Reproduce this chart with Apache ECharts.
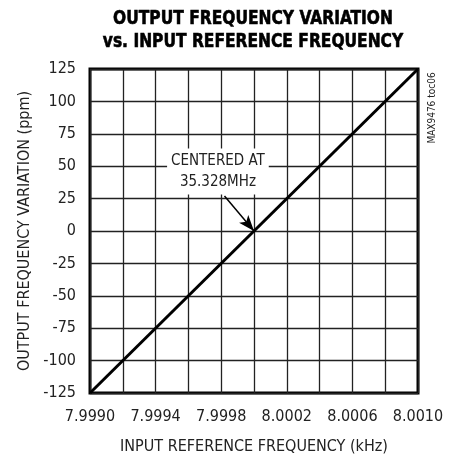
<!DOCTYPE html>
<html lang="en">
<head>
    <meta charset="UTF-8">
    <title>Output Frequency Variation</title>
    <script src="https://cdn.jsdelivr.net/npm/echarts@6/dist/echarts.min.js"></script>
    <style>
        html, body { margin: 0; padding: 0; background: #fff; }
        #chart { width: 452px; height: 460px; }
    </style>
</head>
<body>
<div id="chart"></div>
<script>
    // data
    var inputFreq = [7.9990, 8.0010];          // kHz
    var outputVar = [-125, 125];               // ppm
    var arrowFrom = [7.99982, 27];
    var arrowTo = [8.0000, 0];
    var noteAt = [7.99978, 46];
    var noteText = 'CENTERED AT\n35.328MHz';
    var titleLines = ['OUTPUT FREQUENCY VARIATION', 'vs. INPUT REFERENCE FREQUENCY'];

    var FONT = '"Liberation Sans Narrow", "DejaVu Sans Condensed", sans-serif';

    var chart = echarts.init(document.getElementById('chart'));
    chart.setOption({
        animation: false,
        grid: {
            left: 90, right: 34, top: 69, bottom: 62,
            show: true, borderColor: '#000', borderWidth: 3
        },
        xAxis: {
            type: 'value',
            min: 7.9990, max: 8.0010, interval: 0.0002,
            name: 'INPUT REFERENCE FREQUENCY (kHz)',
            nameLocation: 'middle', nameGap: 46,
            nameTextStyle: { fontFamily: FONT, fontSize: 16, color: '#222' },
            axisLine: { show: false },
            axisTick: { show: false },
            splitLine: { lineStyle: { color: '#222', width: 1.3 } },
            axisLabel: {
                fontFamily: FONT, fontSize: 16, color: '#222', margin: 16,
                formatter: function (v, i) { return i % 2 === 0 ? v.toFixed(4) : ''; }
            }
        },
        yAxis: {
            type: 'value',
            min: -125, max: 125, interval: 25,
            name: 'OUTPUT FREQUENCY VARIATION (ppm)',
            nameLocation: 'middle', nameGap: 57,
            nameTextStyle: { fontFamily: FONT, fontSize: 16, color: '#222' },
            axisLine: { show: false },
            axisTick: { show: false },
            splitLine: { lineStyle: { color: '#222', width: 1.3 } },
            axisLabel: { fontFamily: FONT, fontSize: 16, color: '#222', margin: 14 }
        },
        series: [{
            type: 'line',
            data: inputFreq.map(function (x, i) { return [x, outputVar[i]]; }),
            symbol: 'none',
            lineStyle: { color: '#000', width: 3 },
            markLine: {
                silent: true,
                symbol: ['none', 'arrow'],
                symbolSize: [9, 16],
                label: { show: false },
                lineStyle: { color: '#000', width: 1.5, type: 'solid' },
                data: [[{ coord: arrowFrom }, { coord: arrowTo }]]
            }
        }]
    });

    // title, annotation and figure tag
    var p = chart.convertToPixel({ gridIndex: 0 }, noteAt);
    var titleStyle = {
        align: 'center', verticalAlign: 'middle',
        fontFamily: FONT, fontWeight: 'bold', fontSize: 20, fill: '#000',
        stroke: '#000', lineWidth: 0.6
    };
    chart.setOption({
        graphic: [{
            type: 'text', x: 253, y: 19, scaleX: 0.86,
            style: Object.assign({ text: titleLines[0] }, titleStyle)
        }, {
            type: 'text', x: 253, y: 42, scaleX: 0.86,
            style: Object.assign({ text: titleLines[1] }, titleStyle)
        }, {
            type: 'text',
            x: p[0], y: p[1],
            z: 10,
            style: {
                text: noteText,
                align: 'center', verticalAlign: 'middle',
                fontFamily: FONT, fontSize: 15, lineHeight: 21, fill: '#222',
                backgroundColor: '#fff', padding: [2, 4]
            }
        }, {
            type: 'text',
            x: 432, y: 108, rotation: Math.PI / 2,
            style: {
                text: 'MAX9476 toc06',
                align: 'center', verticalAlign: 'middle',
                fontFamily: FONT, fontSize: 10, fill: '#222'
            }
        }]
    });
</script>
</body>
</html>
